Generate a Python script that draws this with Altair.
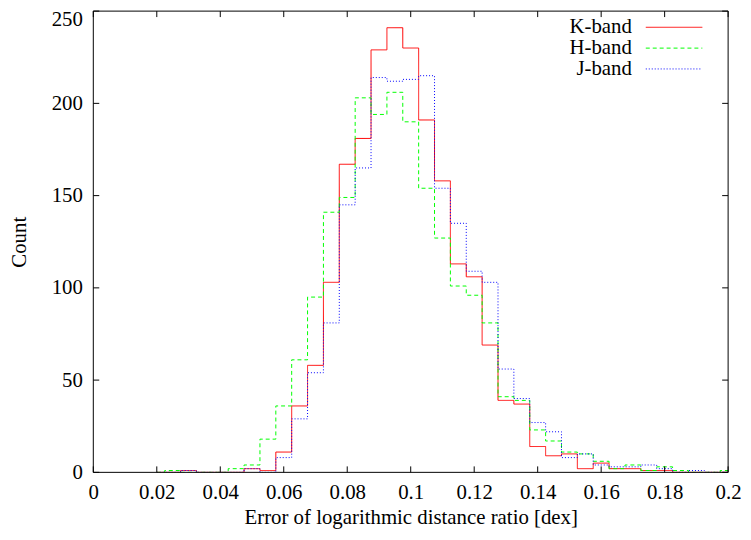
import altair as alt
import pandas as pd

# Bin centres of the histograms (bin width 0.005 dex)
bin_centers = [0.020, 0.025, 0.030, 0.035, 0.040, 0.045, 0.050, 0.055, 0.060, 0.065,
               0.070, 0.075, 0.080, 0.085, 0.090, 0.095, 0.100, 0.105, 0.110, 0.115,
               0.120, 0.125, 0.130, 0.135, 0.140, 0.145, 0.150, 0.155, 0.160, 0.165,
               0.170, 0.175, 0.180, 0.185, 0.190, 0.195, 0.200]

k_band = [0, 0, 1, 0, 0, 0, 2, 1, 11, 36, 58, 103, 167, 181, 229, 241, 230, 191, 158, 113,
          106, 69, 39, 37, 14, 9, 10, 2, 5, 2, 2, 1, 1, 0, 0, 0, 0]
h_band = [0, 1, 0, 0, 0, 2, 4, 18, 36, 61, 95, 141, 149, 203, 194, 206, 190, 154, 127, 101,
          96, 81, 41, 39, 23, 17, 11, 10, 6, 2, 4, 1, 3, 1, 0, 0, 1]
j_band = [0, 0, 1, 0, 0, 0, 2, 0, 8, 29, 54, 81, 145, 165, 214, 212, 213, 215, 154, 135,
          109, 103, 56, 40, 27, 22, 8, 10, 4, 3, 3, 4, 2, 0, 1, 0, 0]

series_names = ["K-band", "H-band", "J-band"]
series_values = [k_band, h_band, j_band]
series_colors = ["#ff0000", "#00ff00", "#0000ff"]
series_dash = [[1, 0], [4, 3], [1, 2]]

x_ticks = [0, 0.02, 0.04, 0.06, 0.08, 0.1, 0.12, 0.14, 0.16, 0.18, 0.2]
y_ticks = [0, 50, 100, 150, 200, 250]

W, H = 640, 465
FONT = "Liberation Serif, Times New Roman, Times, DejaVu Serif, serif"
FS = 21
TICK = 6

xscale = alt.Scale(domain=[0, 0.2], nice=False, zero=False)
yscale = alt.Scale(domain=[0, 250], nice=False, zero=False)

x_axis = alt.Axis(values=x_ticks, format="~g",
                  title="Error of logarithmic distance ratio [dex]",
                  ticks=False, tickSize=0, domain=False, grid=False,
                  labelFont=FONT, labelFontSize=FS, labelPadding=9, labelColor="black",
                  labelFlush=False, labelOverlap=False,
                  titleFont=FONT, titleFontSize=FS, titleFontWeight="normal",
                  titleColor="black", titlePadding=5)
y_axis = alt.Axis(values=y_ticks, title="Count",
                  ticks=False, tickSize=0, domain=False, grid=False,
                  labelFont=FONT, labelFontSize=FS, labelPadding=11, labelColor="black",
                  labelFlush=False, labelOverlap=False,
                  labelOffset={"condition": {"test": "datum.value == 250", "value": 8},
                               "value": 0},
                  titleFont=FONT, titleFontSize=FS, titleFontWeight="normal",
                  titleColor="black", titlePadding=22)

layers = []
for name, vals, color, dash in zip(series_names, series_values, series_colors, series_dash):
    df = pd.DataFrame({"x": bin_centers, "count": vals})
    layers.append(
        alt.Chart(df).mark_line(interpolate="step", color=color, strokeDash=dash,
                                strokeWidth=1, clip=True)
        .encode(x=alt.X("x:Q", scale=xscale, axis=x_axis),
                y=alt.Y("count:Q", scale=yscale, axis=y_axis))
    )

xt = pd.DataFrame({"v": x_ticks})
yt = pd.DataFrame({"v": y_ticks})
tick_style = dict(color="black", strokeWidth=1)
layers.append(alt.Chart(xt).mark_rule(**tick_style).encode(
    x=alt.X("v:Q", scale=xscale, axis=x_axis), y=alt.value(H), y2=alt.value(H - TICK)))
layers.append(alt.Chart(xt).mark_rule(**tick_style).encode(
    x=alt.X("v:Q", scale=xscale, axis=x_axis), y=alt.value(0), y2=alt.value(TICK)))
layers.append(alt.Chart(yt).mark_rule(**tick_style).encode(
    y=alt.Y("v:Q", scale=yscale, axis=y_axis), x=alt.value(0), x2=alt.value(TICK)))
layers.append(alt.Chart(yt).mark_rule(**tick_style).encode(
    y=alt.Y("v:Q", scale=yscale, axis=y_axis), x=alt.value(W), x2=alt.value(W - TICK)))

# frame
layers.append(alt.Chart(pd.DataFrame({"a": [0]})).mark_rect(
    fillOpacity=0, stroke="black", strokeWidth=1).encode(
    x=alt.value(0), x2=alt.value(W), y=alt.value(0), y2=alt.value(H)))

# legend (gnuplot style: label then sample)
for i, (name, color, dash) in enumerate(zip(series_names, series_colors, series_dash)):
    ly = 16.3 + 21 * i
    layers.append(alt.Chart(pd.DataFrame({"label": [name]})).mark_text(
        align="right", baseline="middle", font=FONT, fontSize=FS, color="black").encode(
        x=alt.value(543), y=alt.value(ly), text="label:N"))
    layers.append(alt.Chart(pd.DataFrame({"label": [name]})).mark_rule(
        color=color, strokeDash=dash, strokeWidth=1).encode(
        x=alt.value(557), x2=alt.value(614), y=alt.value(ly)))

chart = alt.layer(*layers).properties(
    width=W, height=H,
    autosize=alt.AutoSizeParams(type="none"),
    padding={"left": 86, "top": 1, "right": 15, "bottom": 60},
    background="white",
).configure_view(strokeWidth=0)

chart.save("out.html", embed_options={"renderer": "svg", "actions": False})
